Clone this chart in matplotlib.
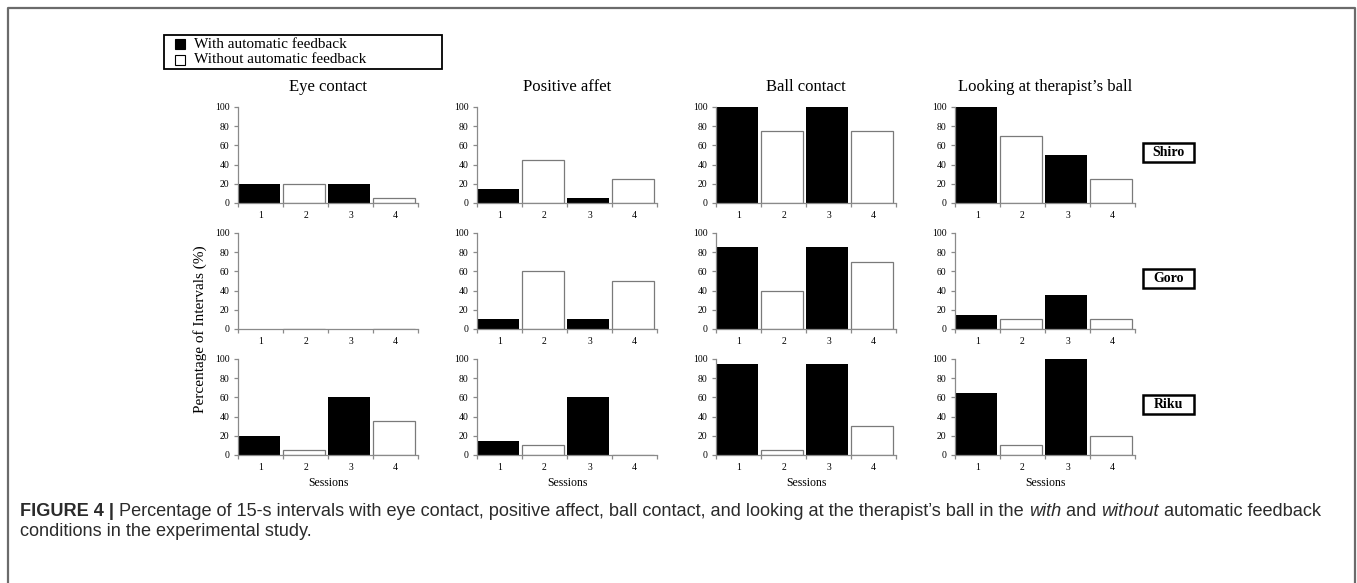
import matplotlib
matplotlib.use("Agg")
import matplotlib.pyplot as plt
from matplotlib.patches import Rectangle
import numpy as np

sessions = [1, 2, 3, 4]
behaviours = ["Eye contact", "Positive affet", "Ball contact", "Looking at therapist\u2019s ball"]
children = ["Shiro", "Goro", "Riku"]
# sessions 1 and 3 with automatic feedback, 2 and 4 without
with_feedback = [True, False, True, False]

shiro = [[20, 20, 20, 5], [15, 45, 5, 25], [100, 75, 100, 75], [100, 70, 50, 25]]
goro = [[0, 0, 0, 0], [10, 60, 10, 50], [85, 40, 85, 70], [15, 10, 35, 10]]
riku = [[20, 5, 60, 35], [15, 10, 60, 0], [95, 5, 95, 30], [65, 10, 100, 20]]
yticks = [0, 20, 40, 60, 80, 100]

W, H = 1357, 583
SERIF = "Liberation Serif"
GREY = "#8a8a8a"


def box(x0, y0, x1, y1):
    # pixel box (top-left origin) -> figure fraction rect
    return [x0 / W, 1 - y1 / H, (x1 - x0) / W, (y1 - y0) / H]


def fx(x):
    return x / W


def fy(y):
    return 1 - y / H


def draw_panel(ax, values):
    fill = ["black" if f else "white" for f in with_feedback]
    edge = ["none" if f else "#7a7a7a" for f in with_feedback]
    left = np.array(sessions) - 0.5
    ax.bar(left, values, width=0.93, align="edge", color=fill, edgecolor=edge, linewidth=0.9)
    ax.set_xlim(0.5, 4.5)
    ax.set_ylim(0, 100)
    ax.set_yticks(yticks)
    ax.set_xticks([0.5, 1.5, 2.5, 3.5, 4.5])
    ax.set_xticklabels([])
    ax.set_xticks(sessions, minor=True)
    ax.set_xticklabels([str(s) for s in sessions], minor=True)
    for s in ["top", "right"]:
        ax.spines[s].set_visible(False)
    for s in ["left", "bottom"]:
        ax.spines[s].set_color(GREY)
        ax.spines[s].set_linewidth(0.9)
    ax.tick_params(axis="both", which="major", color=GREY, length=3, width=0.9, labelsize=7)
    ax.tick_params(axis="x", which="minor", length=0, pad=6, labelsize=7)
    ax.tick_params(axis="y", pad=3)
    for lab in ax.get_xticklabels(minor=True) + ax.get_yticklabels():
        lab.set_fontfamily(SERIF)


def main():
    fig = plt.figure(figsize=(W / 100, H / 100), dpi=100)

    # frame around the whole figure
    fig.add_artist(plt.Line2D([fx(8), fx(8), fx(1355), fx(1355)], [0, fy(8), fy(8), 0],
                              color="#6b6b6b", linewidth=1.6))

    data = [shiro, goro, riku]
    lefts = [238, 477, 716, 955]
    tops = [107, 233, 359]
    for r, child in enumerate(children):
        for c, beh in enumerate(behaviours):
            ax = fig.add_axes(box(lefts[c], tops[r], lefts[c] + 180, tops[r] + 96))
            draw_panel(ax, data[r][c])
            if r == 0:
                fig.text(fx(lefts[c] + 90), fy(87), beh, ha="center", va="center",
                         fontsize=12, family=SERIF)
            if r == 2:
                fig.text(fx(lefts[c] + 90), fy(483), "Sessions", ha="center", va="center",
                         fontsize=8.5, family=SERIF)
        # child name box
        cy = tops[r] + 45
        fig.add_artist(Rectangle((fx(1143), fy(cy + 9.5)), fx(51), fy(0) - fy(19),
                                 transform=fig.transFigure, facecolor="white",
                                 edgecolor="black", linewidth=1.8))
        fig.text(fx(1168.5), fy(cy), child, ha="center", va="center", fontsize=10,
                 family=SERIF, fontweight="bold")

    fig.text(fx(200), fy(329), "Percentage of Intervals (%)", rotation=90, ha="center",
             va="center", fontsize=11, family=SERIF)

    # legend
    fig.add_artist(Rectangle((fx(164), fy(69)), fx(442) - fx(164), fy(35) - fy(69),
                             transform=fig.transFigure, facecolor="white", edgecolor="black",
                             linewidth=1.3))
    for yy, fc, lab in [(44, "black", "With automatic feedback"),
                        (59.5, "white", "Without automatic feedback")]:
        fig.add_artist(Rectangle((fx(175), fy(yy + 5)), fx(10), fy(0) - fy(10),
                                 transform=fig.transFigure, facecolor=fc, edgecolor="black",
                                 linewidth=0.8))
        fig.text(fx(194), fy(yy), lab, ha="left", va="center", fontsize=11, family=SERIF)

    # caption
    fig.canvas.draw()
    r = fig.canvas.get_renderer()
    cap = "#2b2b2b"
    pieces = [("FIGURE 4 | ", "bold", "normal"),
              ("Percentage of 15-s intervals with eye contact, positive affect, ball contact, "
               "and looking at the therapist\u2019s ball in the ", "normal", "normal"),
              ("with", "normal", "italic"), (" and ", "normal", "normal"),
              ("without", "normal", "italic"), (" automatic feedback", "normal", "normal")]
    x = fx(20)
    for txt, wt, st in pieces:
        t = fig.text(x, fy(511), txt, ha="left", va="center", fontsize=13.1,
                     family="Liberation Sans", fontweight=wt, fontstyle=st, color=cap)
        bb = t.get_window_extent(r)
        x += bb.width / W
    fig.text(fx(20), fy(532), "conditions in the experimental study.", ha="left", va="center",
             fontsize=13.1, family="Liberation Sans", color=cap)

    fig.savefig("out.png", dpi=100)


if __name__ == '__main__':
    main()
